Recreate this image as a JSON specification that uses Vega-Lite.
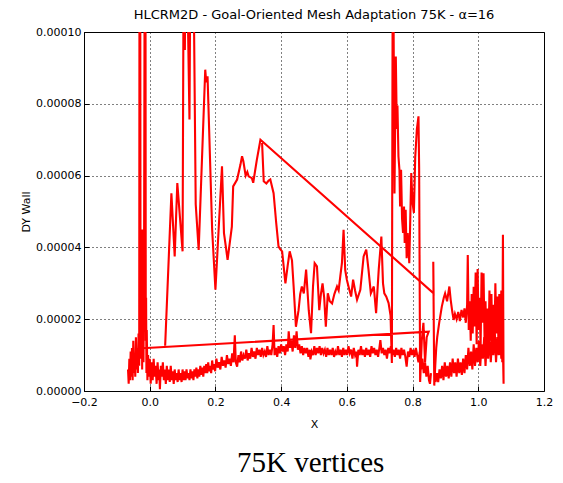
{
"$schema": "https://vega.github.io/schema/vega-lite/v6.json",
"background": "white",
"padding": {"left": 20, "top": 8, "right": 14, "bottom": 6},
"title": {"text": "75K vertices", "orient": "bottom", "anchor": "middle", "font": "Liberation Serif", "fontSize": 29, "fontWeight": "normal", "color": "black", "offset": 19, "dx": 24},
"vconcat": [{
"width": 460, "height": 359,
"title": {"text": "HLCRM2D - Goal-Oriented Mesh Adaptation 75K - α=16", "font": "DejaVu Sans", "fontSize": 13, "fontWeight": "normal", "color": "black", "offset": 4},
"data": {"values": [
{"s":1,"x":-0.066,"y":6e-6},{"s":1,"x":-0.064,"y":2e-6},{"s":1,"x":-0.062,"y":9e-6},{"s":1,"x":-0.060,"y":3e-6},{"s":1,"x":-0.058,"y":11e-6},{"s":1,"x":-0.056,"y":4e-6},{"s":1,"x":-0.054,"y":12e-6},{"s":1,"x":-0.052,"y":3e-6},{"s":1,"x":-0.050,"y":14e-6},{"s":1,"x":-0.048,"y":5e-6},{"s":1,"x":-0.046,"y":10e-6},{"s":1,"x":-0.044,"y":4e-6},{"s":1,"x":-0.042,"y":15e-6},{"s":1,"x":-0.040,"y":6e-6},{"s":1,"x":-0.038,"y":12e-6},{"s":1,"x":-0.036,"y":5e-6},{"s":1,"x":-0.034,"y":16e-6},{"s":1,"x":-0.032,"y":7e-6},{"s":1,"x":-0.031,"y":140e-6},{"s":1,"x":-0.030,"y":58e-6},{"s":1,"x":-0.029,"y":140e-6},{"s":1,"x":-0.028,"y":26e-6},{"s":1,"x":-0.027,"y":9e-6},{"s":1,"x":-0.026,"y":38e-6},{"s":1,"x":-0.025,"y":12e-6},{"s":1,"x":-0.024,"y":28e-6},{"s":1,"x":-0.023,"y":6e-6},{"s":1,"x":-0.022,"y":45e-6},{"s":1,"x":-0.021,"y":15e-6},{"s":1,"x":-0.020,"y":33e-6},{"s":1,"x":-0.019,"y":8e-6},{"s":1,"x":-0.018,"y":24e-6},{"s":1,"x":-0.017,"y":46e-6},{"s":1,"x":-0.015,"y":140e-6},{"s":1,"x":-0.014,"y":30e-6},{"s":1,"x":-0.013,"y":140e-6},{"s":1,"x":-0.012,"y":14e-6},{"s":1,"x":-0.011,"y":26e-6},{"s":1,"x":-0.010,"y":5e-6},{"s":1,"x":-0.009,"y":17e-6},{"s":1,"x":-0.007,"y":3e-6},{"s":1,"x":-0.005,"y":10e-6},{"s":1,"x":-0.003,"y":4e-6},{"s":1,"x":0.000,"y":9e-6},{"s":1,"x":0.003,"y":2e-6},{"s":1,"x":0.006,"y":8e-6},{"s":1,"x":0.009,"y":3e-6},{"s":1,"x":0.012,"y":9e-6},{"s":1,"x":0.015,"y":4e-6},{"s":1,"x":0.018,"y":7e-6},{"s":1,"x":0.021,"y":2e-6},{"s":1,"x":0.024,"y":8e-6},{"s":1,"x":0.027,"y":3e-6},{"s":1,"x":0.029,"y":6e-6},{"s":1,"x":0.031,"y":0.5e-6},{"s":1,"x":0.034,"y":7e-6},
{"s":1,"x":0.037,"y":4e-6},{"s":1,"x":0.040,"y":8e-6},{"s":1,"x":0.043,"y":3e-6},{"s":1,"x":0.046,"y":6e-6},{"s":1,"x":0.049,"y":2e-6},{"s":1,"x":0.052,"y":7e-6},{"s":1,"x":0.055,"y":3e-6},{"s":1,"x":0.058,"y":6e-6},{"s":1,"x":0.061,"y":2.5e-6},{"s":1,"x":0.064,"y":7e-6},{"s":1,"x":0.067,"y":3e-6},{"s":1,"x":0.070,"y":5.5e-6},{"s":1,"x":0.073,"y":2e-6},{"s":1,"x":0.076,"y":6e-6},{"s":1,"x":0.079,"y":3e-6},{"s":1,"x":0.082,"y":5e-6},{"s":1,"x":0.085,"y":2.5e-6},{"s":1,"x":0.088,"y":6e-6},{"s":1,"x":0.091,"y":3e-6},{"s":1,"x":0.094,"y":5e-6},{"s":1,"x":0.097,"y":2.5e-6},{"s":1,"x":0.100,"y":6e-6},{"s":1,"x":0.103,"y":3e-6},{"s":1,"x":0.106,"y":5.5e-6},{"s":1,"x":0.109,"y":3e-6},{"s":1,"x":0.112,"y":6e-6},{"s":1,"x":0.115,"y":3.5e-6},{"s":1,"x":0.118,"y":5e-6},{"s":1,"x":0.121,"y":3e-6},{"s":1,"x":0.124,"y":6e-6},{"s":1,"x":0.127,"y":3.5e-6},{"s":1,"x":0.130,"y":5.5e-6},{"s":1,"x":0.133,"y":3e-6},{"s":1,"x":0.136,"y":6e-6},{"s":1,"x":0.139,"y":4e-6},{"s":1,"x":0.142,"y":6.5e-6},{"s":1,"x":0.145,"y":3.5e-6},{"s":1,"x":0.148,"y":6e-6},{"s":1,"x":0.151,"y":4e-6},{"s":1,"x":0.154,"y":7e-6},{"s":1,"x":0.157,"y":4.5e-6},{"s":1,"x":0.160,"y":6.5e-6},{"s":1,"x":0.163,"y":4e-6},{"s":1,"x":0.166,"y":7e-6},{"s":1,"x":0.169,"y":5e-6},{"s":1,"x":0.172,"y":7.5e-6},{"s":1,"x":0.175,"y":5e-6},{"s":1,"x":0.178,"y":8e-6},{"s":1,"x":0.181,"y":5.5e-6},{"s":1,"x":0.184,"y":7e-6},{"s":1,"x":0.187,"y":5e-6},{"s":1,"x":0.190,"y":8.5e-6},{"s":1,"x":0.193,"y":6e-6},{"s":1,"x":0.196,"y":7.5e-6},{"s":1,"x":0.199,"y":5.5e-6},{"s":1,"x":0.203,"y":9e-6},{"s":1,"x":0.207,"y":6.5e-6},{"s":1,"x":0.211,"y":8e-6},{"s":1,"x":0.215,"y":6e-6},{"s":1,"x":0.219,"y":9.5e-6},{"s":1,"x":0.223,"y":7e-6},{"s":1,"x":0.227,"y":8.5e-6},{"s":1,"x":0.231,"y":6.5e-6},{"s":1,"x":0.235,"y":10e-6},{"s":1,"x":0.239,"y":7.5e-6},{"s":1,"x":0.243,"y":9e-6},{"s":1,"x":0.247,"y":7e-6},{"s":1,"x":0.251,"y":10.5e-6},{"s":1,"x":0.255,"y":8e-6},{"s":1,"x":0.259,"y":15.5e-6},{"s":1,"x":0.262,"y":8e-6},{"s":1,"x":0.266,"y":6.8e-6},{"s":1,"x":0.270,"y":10e-6},{"s":1,"x":0.274,"y":8e-6},{"s":1,"x":0.278,"y":11e-6},{"s":1,"x":0.282,"y":8.5e-6},{"s":1,"x":0.286,"y":10e-6},{"s":1,"x":0.290,"y":9e-6},{"s":1,"x":0.294,"y":11.5e-6},{"s":1,"x":0.298,"y":8.5e-6},{"s":1,"x":0.302,"y":10.5e-6},{"s":1,"x":0.306,"y":9e-6},{"s":1,"x":0.310,"y":12e-6},{"s":1,"x":0.314,"y":9.5e-6},{"s":1,"x":0.318,"y":11e-6},{"s":1,"x":0.322,"y":9e-6},{"s":1,"x":0.326,"y":12e-6},{"s":1,"x":0.330,"y":10e-6},{"s":1,"x":0.334,"y":11.5e-6},{"s":1,"x":0.338,"y":9.5e-6},{"s":1,"x":0.342,"y":12e-6},{"s":1,"x":0.346,"y":10e-6},{"s":1,"x":0.350,"y":11e-6},{"s":1,"x":0.354,"y":9.5e-6},{"s":1,"x":0.358,"y":12.5e-6},{"s":1,"x":0.362,"y":10e-6},{"s":1,"x":0.366,"y":11.5e-6},{"s":1,"x":0.370,"y":10e-6},{"s":1,"x":0.374,"y":13e-6},{"s":1,"x":0.377,"y":18.4e-6},{"s":1,"x":0.380,"y":10e-6},{"s":1,"x":0.384,"y":12e-6},{"s":1,"x":0.388,"y":9.5e-6},{"s":1,"x":0.392,"y":12.5e-6},{"s":1,"x":0.396,"y":10.5e-6},{"s":1,"x":0.400,"y":13e-6},{"s":1,"x":0.404,"y":11e-6},{"s":1,"x":0.408,"y":12.5e-6},{"s":1,"x":0.412,"y":10e-6},{"s":1,"x":0.416,"y":13e-6},{"s":1,"x":0.420,"y":11e-6},{"s":1,"x":0.423,"y":16.6e-6},{"s":1,"x":0.427,"y":12e-6},{"s":1,"x":0.431,"y":14e-6},{"s":1,"x":0.435,"y":11e-6},{"s":1,"x":0.439,"y":15.5e-6},{"s":1,"x":0.443,"y":12e-6},{"s":1,"x":0.447,"y":16.6e-6},{"s":1,"x":0.451,"y":11.5e-6},{"s":1,"x":0.455,"y":13e-6},{"s":1,"x":0.459,"y":10.5e-6},{"s":1,"x":0.463,"y":12.5e-6},{"s":1,"x":0.467,"y":10e-6},{"s":1,"x":0.471,"y":12e-6},{"s":1,"x":0.475,"y":10.5e-6},{"s":1,"x":0.479,"y":12e-6},{"s":1,"x":0.483,"y":9.5e-6},{"s":1,"x":0.487,"y":11.5e-6},{"s":1,"x":0.489,"y":8.8e-6},{"s":1,"x":0.493,"y":11e-6},{"s":1,"x":0.497,"y":10e-6},{"s":1,"x":0.501,"y":12.5e-6},{"s":1,"x":0.505,"y":10e-6},{"s":1,"x":0.509,"y":12e-6},{"s":1,"x":0.513,"y":10.5e-6},{"s":1,"x":0.517,"y":12.5e-6},{"s":1,"x":0.521,"y":10e-6},{"s":1,"x":0.525,"y":12e-6},{"s":1,"x":0.529,"y":10.5e-6},{"s":1,"x":0.533,"y":11.5e-6},{"s":1,"x":0.537,"y":9.5e-6},{"s":1,"x":0.541,"y":12e-6},{"s":1,"x":0.545,"y":10e-6},{"s":1,"x":0.549,"y":11.5e-6},{"s":1,"x":0.553,"y":10e-6},{"s":1,"x":0.557,"y":12e-6},{"s":1,"x":0.561,"y":9.5e-6},{"s":1,"x":0.565,"y":11e-6},{"s":1,"x":0.569,"y":10e-6},{"s":1,"x":0.573,"y":12.5e-6},{"s":1,"x":0.577,"y":10e-6},{"s":1,"x":0.581,"y":11.5e-6},{"s":1,"x":0.585,"y":9.5e-6},{"s":1,"x":0.589,"y":12e-6},{"s":1,"x":0.593,"y":10e-6},{"s":1,"x":0.597,"y":11.5e-6},{"s":1,"x":0.601,"y":10e-6},{"s":1,"x":0.605,"y":12.5e-6},{"s":1,"x":0.609,"y":10.5e-6},{"s":1,"x":0.613,"y":11.5e-6},{"s":1,"x":0.617,"y":9e-6},{"s":1,"x":0.621,"y":12e-6},{"s":1,"x":0.625,"y":10e-6},{"s":1,"x":0.629,"y":11e-6},{"s":1,"x":0.631,"y":6.8e-6},{"s":1,"x":0.635,"y":11.5e-6},{"s":1,"x":0.639,"y":10e-6},{"s":1,"x":0.643,"y":12.5e-6},{"s":1,"x":0.647,"y":10e-6},{"s":1,"x":0.651,"y":11.5e-6},{"s":1,"x":0.655,"y":9.5e-6},{"s":1,"x":0.659,"y":12e-6},{"s":1,"x":0.663,"y":10e-6},{"s":1,"x":0.667,"y":11.5e-6},{"s":1,"x":0.671,"y":9.5e-6},{"s":1,"x":0.675,"y":12.5e-6},{"s":1,"x":0.679,"y":10.5e-6},{"s":1,"x":0.683,"y":12e-6},{"s":1,"x":0.687,"y":10e-6},{"s":1,"x":0.691,"y":11.5e-6},{"s":1,"x":0.695,"y":9.5e-6},{"s":1,"x":0.699,"y":12e-6},{"s":1,"x":0.702,"y":14.2e-6},{"s":1,"x":0.706,"y":10.5e-6},{"s":1,"x":0.710,"y":12e-6},{"s":1,"x":0.714,"y":10e-6},{"s":1,"x":0.718,"y":11.5e-6},{"s":1,"x":0.722,"y":9e-6},{"s":1,"x":0.726,"y":12e-6},{"s":1,"x":0.730,"y":10.5e-6},{"s":1,"x":0.734,"y":12.5e-6},{"s":1,"x":0.738,"y":10e-6},{"s":1,"x":0.742,"y":11.5e-6},{"s":1,"x":0.746,"y":9.5e-6},{"s":1,"x":0.750,"y":12e-6},{"s":1,"x":0.754,"y":10e-6},{"s":1,"x":0.758,"y":11.5e-6},{"s":1,"x":0.762,"y":9e-6},{"s":1,"x":0.766,"y":12e-6},{"s":1,"x":0.770,"y":10e-6},{"s":1,"x":0.774,"y":11.5e-6},{"s":1,"x":0.778,"y":9.5e-6},{"s":1,"x":0.782,"y":6.8e-6},{"s":1,"x":0.786,"y":11e-6},{"s":1,"x":0.790,"y":9.5e-6},{"s":1,"x":0.794,"y":12e-6},{"s":1,"x":0.798,"y":10e-6},{"s":1,"x":0.802,"y":11.5e-6},{"s":1,"x":0.806,"y":9.5e-6},{"s":1,"x":0.810,"y":12e-6},{"s":1,"x":0.814,"y":10e-6},{"s":1,"x":0.818,"y":8e-6},{"s":1,"x":0.822,"y":11e-6},{"s":1,"x":0.826,"y":6e-6},{"s":1,"x":0.830,"y":9e-6},{"s":1,"x":0.834,"y":5e-6},{"s":1,"x":0.838,"y":8e-6},{"s":1,"x":0.842,"y":4e-6},{"s":1,"x":0.846,"y":7e-6},{"s":1,"x":0.850,"y":3e-6},{"s":1,"x":0.853,"y":2e-6},{"s":1,"x":0.856,"y":5e-6},
{"s":2,"x":0.047,"y":12.6e-6},{"s":2,"x":0.066,"y":55.1e-6},{"s":2,"x":0.076,"y":37.5e-6},{"s":2,"x":0.084,"y":57.9e-6},{"s":2,"x":0.100,"y":38.9e-6},{"s":2,"x":0.104,"y":140e-6},{"s":2,"x":0.107,"y":95e-6},{"s":2,"x":0.110,"y":140e-6},{"s":2,"x":0.121,"y":75.6e-6},{"s":2,"x":0.125,"y":140e-6},{"s":2,"x":0.131,"y":140e-6},{"s":2,"x":0.140,"y":52e-6},{"s":2,"x":0.149,"y":39.3e-6},{"s":2,"x":0.169,"y":89.5e-6},{"s":2,"x":0.172,"y":86e-6},{"s":2,"x":0.176,"y":87.7e-6},{"s":2,"x":0.190,"y":45e-6},{"s":2,"x":0.200,"y":28.2e-6},{"s":2,"x":0.220,"y":62.6e-6},{"s":2,"x":0.226,"y":44e-6},{"s":2,"x":0.232,"y":40e-6},{"s":2,"x":0.237,"y":36.5e-6},{"s":2,"x":0.250,"y":45.8e-6},{"s":2,"x":0.254,"y":57e-6},{"s":2,"x":0.266,"y":58.9e-6},{"s":2,"x":0.276,"y":63e-6},{"s":2,"x":0.281,"y":65.4e-6},{"s":2,"x":0.285,"y":64e-6},{"s":2,"x":0.292,"y":60e-6},{"s":2,"x":0.297,"y":61e-6},{"s":2,"x":0.301,"y":59.8e-6},{"s":2,"x":0.311,"y":59.3e-6},{"s":2,"x":0.315,"y":58e-6},{"s":2,"x":0.326,"y":64.4e-6},{"s":2,"x":0.337,"y":70e-6},{"s":2,"x":0.864,"y":27.2e-6},{"s":2,"x":0.863,"y":36e-6},{"s":2,"x":0.866,"y":1.5e-6},{"s":2,"x":0.869,"y":7e-6},{"s":2,"x":0.872,"y":12e-6},{"s":2,"x":0.875,"y":15e-6},{"s":2,"x":0.881,"y":19e-6},{"s":2,"x":0.889,"y":23.5e-6},{"s":2,"x":0.895,"y":26e-6},{"s":2,"x":0.899,"y":27.2e-6},{"s":2,"x":0.905,"y":25e-6},{"s":2,"x":0.912,"y":29.1e-6},{"s":2,"x":0.916,"y":25.4e-6},{"s":2,"x":0.921,"y":22e-6},{"s":2,"x":0.925,"y":19.8e-6},{"s":2,"x":0.929,"y":21.5e-6},{"s":2,"x":0.934,"y":20e-6},{"s":2,"x":0.939,"y":22e-6},{"s":2,"x":0.944,"y":19.5e-6},{"s":2,"x":0.949,"y":22.6e-6},{"s":2,"x":0.954,"y":20.5e-6},{"s":2,"x":0.958,"y":23e-6},{"s":2,"x":0.962,"y":19e-6},{"s":2,"x":0.966,"y":24e-6},{"s":2,"x":0.968,"y":37.9e-6},{"s":2,"x":0.971,"y":17e-6},{"s":2,"x":0.974,"y":25e-6},{"s":2,"x":0.977,"y":14e-6},{"s":2,"x":0.980,"y":27e-6},{"s":2,"x":0.983,"y":16e-6},{"s":2,"x":0.986,"y":29e-6},{"s":2,"x":0.989,"y":18e-6},{"s":2,"x":0.992,"y":33e-6},{"s":2,"x":0.995,"y":13e-6},{"s":2,"x":0.998,"y":34e-6},{"s":2,"x":1.001,"y":17e-6},{"s":2,"x":1.004,"y":26e-6},{"s":2,"x":1.007,"y":12e-6},{"s":2,"x":1.010,"y":33e-6},{"s":2,"x":1.013,"y":19e-6},{"s":2,"x":1.016,"y":32.8e-6},{"s":2,"x":1.019,"y":15e-6},{"s":2,"x":1.022,"y":25e-6},{"s":2,"x":1.025,"y":11e-6},{"s":2,"x":1.028,"y":23e-6},{"s":2,"x":1.031,"y":12.4e-6},{"s":2,"x":1.034,"y":28e-6},{"s":2,"x":1.037,"y":14e-6},{"s":2,"x":1.040,"y":27e-6},{"s":2,"x":1.043,"y":11.5e-6},{"s":2,"x":1.046,"y":24e-6},{"s":2,"x":1.049,"y":13e-6},{"s":2,"x":1.052,"y":30e-6},{"s":2,"x":1.055,"y":16e-6},{"s":2,"x":1.058,"y":26.3e-6},{"s":2,"x":1.061,"y":15e-6},{"s":2,"x":1.064,"y":27e-6},{"s":2,"x":1.067,"y":10e-6},{"s":2,"x":1.070,"y":28e-6},{"s":2,"x":1.073,"y":8e-6},{"s":2,"x":1.075,"y":43.5e-6},{"s":2,"x":1.077,"y":2e-6},{"s":2,"x":1.074,"y":16e-6},{"s":2,"x":1.070,"y":9e-6},{"s":2,"x":1.066,"y":18e-6},{"s":2,"x":1.062,"y":10e-6},{"s":2,"x":1.058,"y":15e-6},{"s":2,"x":1.054,"y":8e-6},{"s":2,"x":1.050,"y":17e-6},{"s":2,"x":1.046,"y":10e-6},{"s":2,"x":1.042,"y":14e-6},{"s":2,"x":1.038,"y":8e-6},{"s":2,"x":1.034,"y":16e-6},{"s":2,"x":1.030,"y":9e-6},{"s":2,"x":1.026,"y":14e-6},{"s":2,"x":1.022,"y":7e-6},{"s":2,"x":1.018,"y":15e-6},{"s":2,"x":1.014,"y":9e-6},{"s":2,"x":1.010,"y":13e-6},{"s":2,"x":1.006,"y":7e-6},{"s":2,"x":1.002,"y":14e-6},{"s":2,"x":0.998,"y":8e-6},{"s":2,"x":0.994,"y":12e-6},{"s":2,"x":0.990,"y":7e-6},{"s":2,"x":0.986,"y":13e-6},{"s":2,"x":0.982,"y":6e-6},{"s":2,"x":0.978,"y":11e-6},{"s":2,"x":0.974,"y":7e-6},{"s":2,"x":0.970,"y":12e-6},{"s":2,"x":0.966,"y":6e-6},{"s":2,"x":0.962,"y":10e-6},{"s":2,"x":0.958,"y":5e-6},{"s":2,"x":0.954,"y":9e-6},{"s":2,"x":0.950,"y":4.5e-6},{"s":2,"x":0.946,"y":8e-6},{"s":2,"x":0.942,"y":5e-6},{"s":2,"x":0.938,"y":9e-6},{"s":2,"x":0.934,"y":4e-6},{"s":2,"x":0.930,"y":8e-6},{"s":2,"x":0.926,"y":5e-6},{"s":2,"x":0.922,"y":9e-6},{"s":2,"x":0.918,"y":4e-6},{"s":2,"x":0.914,"y":8e-6},{"s":2,"x":0.910,"y":3.5e-6},{"s":2,"x":0.906,"y":7e-6},{"s":2,"x":0.902,"y":4e-6},{"s":2,"x":0.898,"y":8e-6},{"s":2,"x":0.894,"y":3e-6},{"s":2,"x":0.890,"y":7e-6},{"s":2,"x":0.886,"y":3.5e-6},{"s":2,"x":0.882,"y":6e-6},{"s":2,"x":0.878,"y":2.5e-6},{"s":2,"x":0.874,"y":5e-6},{"s":2,"x":0.870,"y":2.5e-6},
{"s":3,"x":0.342,"y":69.1e-6},{"s":3,"x":0.347,"y":58.4e-6},{"s":3,"x":0.355,"y":57.8e-6},{"s":3,"x":0.362,"y":58.6e-6},{"s":3,"x":0.367,"y":58.9e-6},{"s":3,"x":0.377,"y":55.1e-6},{"s":3,"x":0.385,"y":46.8e-6},{"s":3,"x":0.392,"y":40.3e-6},{"s":3,"x":0.397,"y":39.5e-6},{"s":3,"x":0.403,"y":38.9e-6},{"s":3,"x":0.413,"y":30e-6},{"s":3,"x":0.420,"y":35e-6},{"s":3,"x":0.426,"y":38.9e-6},{"s":3,"x":0.433,"y":36.4e-6},{"s":3,"x":0.438,"y":29.1e-6},{"s":3,"x":0.445,"y":17.9e-6},{"s":3,"x":0.453,"y":22.5e-6},{"s":3,"x":0.458,"y":27e-6},{"s":3,"x":0.463,"y":29.1e-6},{"s":3,"x":0.469,"y":27.2e-6},{"s":3,"x":0.476,"y":33.8e-6},{"s":3,"x":0.484,"y":22.5e-6},{"s":3,"x":0.491,"y":16.1e-6},{"s":3,"x":0.497,"y":29.1e-6},{"s":3,"x":0.502,"y":35.6e-6},{"s":3,"x":0.509,"y":34.7e-6},{"s":3,"x":0.516,"y":22.5e-6},{"s":3,"x":0.521,"y":27e-6},{"s":3,"x":0.526,"y":30e-6},{"s":3,"x":0.531,"y":26e-6},{"s":3,"x":0.536,"y":17.9e-6},{"s":3,"x":0.542,"y":27.2e-6},{"s":3,"x":0.548,"y":25e-6},{"s":3,"x":0.555,"y":24.4e-6},{"s":3,"x":0.562,"y":27e-6},{"s":3,"x":0.570,"y":29.1e-6},{"s":3,"x":0.575,"y":28e-6},{"s":3,"x":0.580,"y":31.9e-6},{"s":3,"x":0.585,"y":35.6e-6},{"s":3,"x":0.590,"y":44.9e-6},{"s":3,"x":0.595,"y":33.7e-6},{"s":3,"x":0.600,"y":31e-6},{"s":3,"x":0.605,"y":29.1e-6},{"s":3,"x":0.613,"y":26.3e-6},{"s":3,"x":0.619,"y":31e-6},{"s":3,"x":0.625,"y":28e-6},{"s":3,"x":0.631,"y":25.4e-6},{"s":3,"x":0.641,"y":28.2e-6},{"s":3,"x":0.651,"y":37.5e-6},{"s":3,"x":0.659,"y":39.4e-6},{"s":3,"x":0.666,"y":33.7e-6},{"s":3,"x":0.673,"y":27.2e-6},{"s":3,"x":0.682,"y":29.1e-6},{"s":3,"x":0.689,"y":21.7e-6},{"s":3,"x":0.697,"y":33.8e-6},{"s":3,"x":0.705,"y":43e-6},{"s":3,"x":0.710,"y":30e-6},{"s":3,"x":0.714,"y":27.2e-6},{"s":3,"x":0.720,"y":26.3e-6},{"s":3,"x":0.727,"y":24.5e-6},{"s":3,"x":0.733,"y":21e-6},{"s":3,"x":0.737,"y":7.8e-6},{"s":3,"x":0.740,"y":140e-6},{"s":3,"x":0.745,"y":55e-6},{"s":3,"x":0.749,"y":93.2e-6},{"s":3,"x":0.752,"y":73e-6},{"s":3,"x":0.754,"y":79.5e-6},{"s":3,"x":0.757,"y":65.4e-6},{"s":3,"x":0.760,"y":61.6e-6},{"s":3,"x":0.762,"y":51.4e-6},{"s":3,"x":0.765,"y":61.6e-6},{"s":3,"x":0.768,"y":48e-6},{"s":3,"x":0.771,"y":44e-6},{"s":3,"x":0.774,"y":51.4e-6},{"s":3,"x":0.776,"y":41.2e-6},{"s":3,"x":0.779,"y":50.5e-6},{"s":3,"x":0.782,"y":37e-6},{"s":3,"x":0.785,"y":44e-6},{"s":3,"x":0.790,"y":35.6e-6},{"s":3,"x":0.793,"y":48e-6},{"s":3,"x":0.796,"y":60.7e-6},{"s":3,"x":0.800,"y":52.3e-6},{"s":3,"x":0.804,"y":49.6e-6},{"s":3,"x":0.808,"y":65e-6},{"s":3,"x":0.813,"y":72.8e-6},{"s":3,"x":0.818,"y":76.5e-6},{"s":3,"x":0.820,"y":62e-6},{"s":3,"x":0.823,"y":2.5e-6},{"s":3,"x":0.828,"y":14e-6},{"s":3,"x":0.833,"y":19e-6},{"s":3,"x":0.838,"y":8e-6},{"s":3,"x":0.843,"y":15e-6},{"s":3,"x":0.849,"y":16.5e-6},{"s":3,"x":-0.023,"y":11.9e-6}
]},
"mark": {"type": "line", "color": "#ff0000", "strokeWidth": 2.1, "clip": true},
"encoding": {
"x": {"field": "x", "type": "quantitative", "scale": {"domain": [-0.2, 1.2], "nice": false, "zero": false}, "axis": {"title": "X", "titlePadding": 11, "labelFlush": false, "labelPadding": 10, "values": [-0.2, 0, 0.2, 0.4, 0.6, 0.8, 1, 1.2], "format": ".1f"}},
"y": {"field": "y", "type": "quantitative", "scale": {"domain": [0, 0.0001], "nice": false}, "axis": {"title": "DY Wall", "labelFlush": false, "values": [0, 0.00002, 0.00004, 0.00006, 0.00008, 0.0001], "format": ".5f"}},
"detail": {"field": "s"},
"order": {"value": null}
}
}],
"config": {
"view": {"stroke": "black", "strokeWidth": 1},
"axis": {"domain": false, "grid": true, "gridColor": "black", "gridDash": [1, 3], "gridOpacity": 1, "gridWidth": 1, "tickColor": "black", "tickSize": -5, "labelPadding": 8, "labelFont": "DejaVu Sans", "labelFontSize": 11, "labelColor": "black", "titleFont": "DejaVu Sans", "titleFontSize": 11, "titleFontWeight": "normal", "titleColor": "black"}
}
}
